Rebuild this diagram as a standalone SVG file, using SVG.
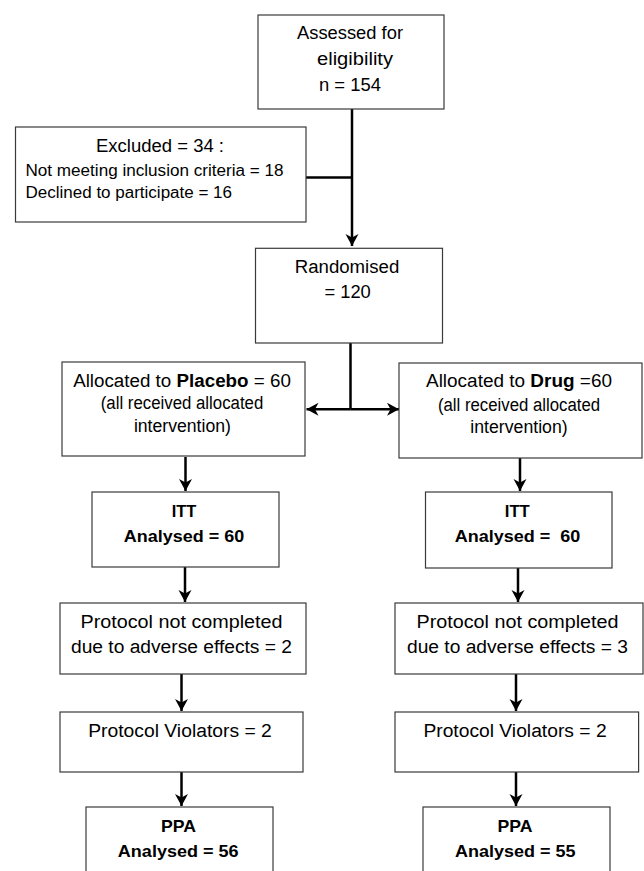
<svg xmlns="http://www.w3.org/2000/svg" width="644" height="871" viewBox="0 0 644 871">
<style>
.box{fill:#fff;stroke:#3a3a3a;stroke-width:1.2}
text{font-family:"Liberation Sans",Arial,sans-serif;fill:#000;text-anchor:middle;font-size:18px}
.sm{font-size:16px;text-anchor:start}
.b{font-weight:bold;font-size:17px}
.bt{font-weight:bold}
.c{fill:none;stroke:#000;stroke-width:2.5}
</style>
<defs>
<marker id="ah" markerUnits="userSpaceOnUse" markerWidth="16" markerHeight="16" viewBox="-13 -8 14 16" refX="0" refY="0" orient="auto">
<path d="M0,0 L-12,-6.5 L-8.5,0 L-12,6.5 Z" fill="#000"/>
</marker>
</defs>
<rect width="644" height="871" fill="#fff"/>
<g id="connectors">
<path class="c" d="M352,109 V246" marker-end="url(#ah)"/>
<path class="c" d="M306,177.5 H352"/>
<path class="c" d="M350.5,343 V409.3"/>
<path class="c" d="M350.5,409.3 H306.5" marker-end="url(#ah)"/>
<path class="c" d="M350.5,409.3 H399" marker-end="url(#ah)"/>
<path class="c" d="M185.5,457 V491" marker-end="url(#ah)"/>
<path class="c" d="M520,457 V491" marker-end="url(#ah)"/>
<path class="c" d="M185,567 V602" marker-end="url(#ah)"/>
<path class="c" d="M518,568 V602" marker-end="url(#ah)"/>
<path class="c" d="M181.5,674 V711" marker-end="url(#ah)"/>
<path class="c" d="M516,674 V711" marker-end="url(#ah)"/>
<path class="c" d="M181.5,772 V806" marker-end="url(#ah)"/>
<path class="c" d="M516,772 V806" marker-end="url(#ah)"/>
</g>
<g id="assessed">
<rect class="box" x="258" y="15" width="186" height="94"/>
<text x="350" y="39" textLength="106" lengthAdjust="spacingAndGlyphs">Assessed for</text>
<text x="355" y="65" textLength="76" lengthAdjust="spacingAndGlyphs">eligibility</text>
<text x="350" y="91" textLength="62" lengthAdjust="spacingAndGlyphs">n = 154</text>
</g>
<g id="excluded">
<rect class="box" x="15.5" y="127" width="290.5" height="95"/>
<text x="160" y="152" textLength="128" lengthAdjust="spacingAndGlyphs">Excluded = 34 :</text>
<text class="sm" x="25.5" y="176" textLength="258" lengthAdjust="spacingAndGlyphs">Not meeting inclusion criteria = 18</text>
<text class="sm" x="25.5" y="198" textLength="206.5" lengthAdjust="spacingAndGlyphs">Declined to participate = 16</text>
</g>
<g id="randomised">
<rect class="box" x="255.5" y="248.3" width="187" height="94.7"/>
<text x="347" y="273" textLength="104.5" lengthAdjust="spacingAndGlyphs">Randomised</text>
<text x="347.6" y="298" textLength="46.4" lengthAdjust="spacingAndGlyphs">= 120</text>
</g>
<g id="placebo">
<rect class="box" x="62" y="362" width="243" height="94"/>
<text x="182" y="387" textLength="217.7" lengthAdjust="spacingAndGlyphs">Allocated to <tspan class="bt">Placebo</tspan> = 60</text>
<text x="182" y="409" textLength="162.5" lengthAdjust="spacingAndGlyphs">(all received allocated</text>
<text x="182.4" y="432" textLength="97" lengthAdjust="spacingAndGlyphs">intervention)</text>
</g>
<g id="drug">
<rect class="box" x="399" y="363" width="243" height="95"/>
<text x="519" y="387" textLength="186" lengthAdjust="spacingAndGlyphs">Allocated to <tspan class="bt">Drug</tspan> =60</text>
<text x="519" y="411" textLength="162.2" lengthAdjust="spacingAndGlyphs">(all received allocated</text>
<text x="519" y="433" textLength="97.3" lengthAdjust="spacingAndGlyphs">intervention)</text>
</g>
<g id="itt-placebo">
<rect class="box" x="92" y="492" width="187" height="75"/>
<text class="b" x="184" y="517" textLength="24.6" lengthAdjust="spacingAndGlyphs">ITT</text>
<text class="b" x="184" y="542" textLength="120.3" lengthAdjust="spacingAndGlyphs">Analysed = 60</text>
</g>
<g id="itt-drug">
<rect class="box" x="425.5" y="492" width="186.5" height="76"/>
<text class="b" x="517.3" y="517" textLength="25" lengthAdjust="spacingAndGlyphs">ITT</text>
<text class="b" x="517.5" y="542" textLength="125.7" lengthAdjust="spacingAndGlyphs" xml:space="preserve">Analysed =  60</text>
</g>
<g id="pnc-placebo">
<rect class="box" x="60" y="603" width="246" height="71"/>
<text x="181.5" y="628" textLength="202" lengthAdjust="spacingAndGlyphs">Protocol not completed</text>
<text x="181.5" y="653" textLength="221" lengthAdjust="spacingAndGlyphs">due to adverse effects = 2</text>
</g>
<g id="pnc-drug">
<rect class="box" x="395" y="603" width="248" height="71"/>
<text x="517.5" y="628" textLength="202" lengthAdjust="spacingAndGlyphs">Protocol not completed</text>
<text x="517.5" y="653" textLength="221" lengthAdjust="spacingAndGlyphs">due to adverse effects = 3</text>
</g>
<g id="pv-placebo">
<rect class="box" x="60" y="712" width="243" height="60"/>
<text x="180" y="737" textLength="183.6" lengthAdjust="spacingAndGlyphs">Protocol Violators = 2</text>
</g>
<g id="pv-drug">
<rect class="box" x="395" y="712" width="243.6" height="60"/>
<text x="515" y="737" textLength="183.2" lengthAdjust="spacingAndGlyphs">Protocol Violators = 2</text>
</g>
<g id="ppa-placebo">
<rect class="box" x="86" y="807" width="187" height="80"/>
<text class="b" x="178.5" y="832" textLength="35" lengthAdjust="spacingAndGlyphs">PPA</text>
<text class="b" x="178.2" y="857" textLength="120.7" lengthAdjust="spacingAndGlyphs">Analysed = 56</text>
</g>
<g id="ppa-drug">
<rect class="box" x="423" y="807" width="187" height="80"/>
<text class="b" x="515" y="832" textLength="35" lengthAdjust="spacingAndGlyphs">PPA</text>
<text class="b" x="515.2" y="857" textLength="120.4" lengthAdjust="spacingAndGlyphs">Analysed = 55</text>
</g>
</svg>
